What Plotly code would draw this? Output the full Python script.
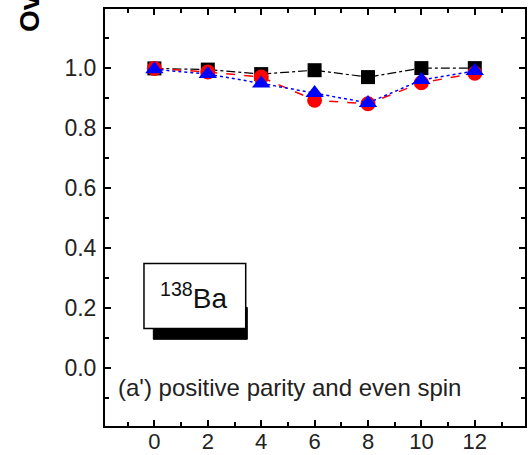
import plotly.graph_objects as go

spin = [0, 2, 4, 6, 8, 10, 12]
black_sq = [0.997, 0.993, 0.978, 0.991, 0.968, 0.998, 0.998]
red_circ = [0.997, 0.985, 0.968, 0.891, 0.879, 0.949, 0.981]
blue_tri = [0.994, 0.978, 0.947, 0.915, 0.882, 0.958, 0.988]

FONT = "Liberation Sans, Arial, sans-serif"

fig = go.Figure()
fig.add_trace(go.Scatter(x=spin, y=black_sq, mode="lines+markers",
                         line=dict(color="black", width=1.2, dash="dashdot"),
                         marker=dict(symbol="square", size=14, color="black")))
fig.add_trace(go.Scatter(x=spin, y=red_circ, mode="lines+markers",
                         line=dict(color="red", width=1.5, dash="dash"),
                         marker=dict(symbol="circle", size=15, color="red")))
fig.add_trace(go.Scatter(x=spin, y=blue_tri, mode="lines+markers",
                         line=dict(color="blue", width=1.5, dash="dot"),
                         marker=dict(symbol="triangle-up", size=16, color="blue")))

axis_common = dict(showline=True, linecolor="black", linewidth=2, mirror="ticks",
                   ticks="inside", ticklen=6, tickwidth=1.5, tickcolor="black",
                   showgrid=False, zeroline=False, automargin=False)

fig.update_xaxes(range=[-1.85, 13.88], tickvals=spin, ticktext=[str(v) for v in spin],
                 minor=dict(tickvals=[-1, 1, 3, 5, 7, 9, 11, 13], ticks="inside",
                            ticklen=4, tickwidth=1.5, tickcolor="black"),
                 tickfont=dict(family=FONT, size=22, color="#222"),
                 ticklabelstandoff=-5, **axis_common)
fig.update_yaxes(range=[-0.195, 1.195], tickvals=[0, 0.2, 0.4, 0.6, 0.8, 1.0],
                 ticktext=["0.0", "0.2", "0.4", "0.6", "0.8", "1.0"],
                 minor=dict(tickvals=[-0.1, 0.1, 0.3, 0.5, 0.7, 0.9, 1.1], ticks="inside",
                            ticklen=4, tickwidth=1.5, tickcolor="black"),
                 tickfont=dict(family=FONT, size=23, color="#222"),
                 ticklabelstandoff=2, **axis_common)

# shadow and box for nucleus label
fig.add_shape(type="rect", x0=-0.04, x1=3.48, y0=0.094, y1=0.2, xref="x", yref="y",
              fillcolor="black", line=dict(color="black", width=1), layer="above")
fig.add_shape(type="rect", x0=-0.39, x1=3.42, y0=0.13, y1=0.347, xref="x", yref="y",
              fillcolor="white", line=dict(color="black", width=1.5), layer="above")
fig.add_annotation(x=1.45, y=0.24, xref="x", yref="y", showarrow=False,
                   text="<sup>138</sup>Ba", font=dict(family=FONT, size=28, color="#111"))
fig.add_annotation(x=5.05, y=-0.065, xref="x", yref="y", showarrow=False,
                   text="(a') positive parity and even spin",
                   font=dict(family=FONT, size=24, color="#222"))
fig.add_annotation(x=-0.181, y=0.94, xref="paper", yref="paper", xanchor="center",
                   yanchor="bottom", textangle=-90, showarrow=False,
                   text="<b>Overlap</b>", font=dict(family=FONT, size=28, color="black"))

fig.update_layout(width=528, height=455, margin=dict(l=105, r=3, t=9, b=29, autoexpand=False),
                  paper_bgcolor="white", plot_bgcolor="white", showlegend=False)

fig.write_html("out.html")
